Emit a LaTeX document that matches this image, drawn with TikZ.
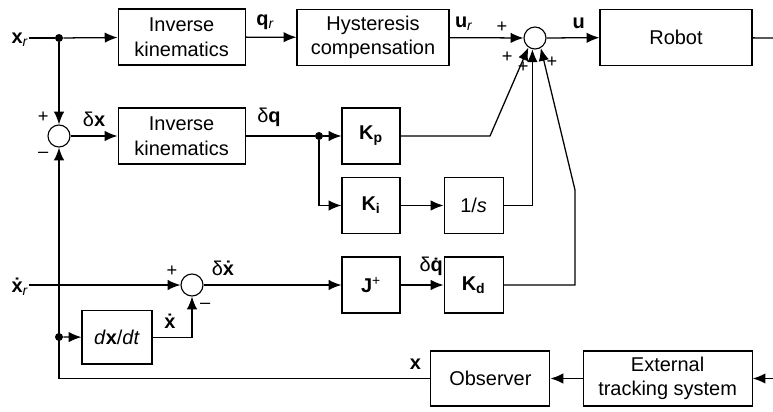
\documentclass[tikz,border=0pt]{standalone}
\usepackage{fontspec}
\setmainfont{Liberation Sans}
\usepackage{tikz}
\usetikzlibrary{arrows.meta, positioning}
\newcommand{\lsub}[1]{\textsubscript{#1}}
\newcommand{\bdot}{\textbf{\.x}}
\tikzset{
  blkbox/.style={draw,line width=0.8pt,minimum height=1.4cm,inner sep=1pt,align=center,
    font=\fontsize{14.2}{17.5}\selectfont},
  sumnode/.style={circle,draw,line width=0.8pt,minimum size=0.55cm,inner sep=0pt},
  jnode/.style={circle,fill=black,minimum size=0.2cm,inner sep=0pt},
  sigedge/.style={-{Latex[length=3.2mm,width=2.6mm]},line width=0.9pt},
  sigline/.style={line width=0.9pt},
  siglbl/.style={inner sep=0pt,font=\fontsize{14.2}{16}\selectfont},
  signlbl/.style={inner sep=0pt,font=\fontsize{13}{14}\selectfont},
}
\begin{document}
\begin{tikzpicture}
  \useasboundingbox (0,0) rectangle (19.325,10.275);
  % ---- top path: reference -> hysteresis compensation -> robot ----
  \node[jnode] (dot1) at (1.475,9.325) {};
  \node[siglbl] (xr) at (0.5,9.27) {\textbf{x}\lsub{\textit{r}}};
  \node[blkbox,minimum width=3.175cm] (ik1) at (4.54,9.35) {Inverse\\kinematics};
  \node[blkbox,minimum width=3.8cm] (hyst) at (9.325,9.34) {Hysteresis\\compensation};
  \node[sumnode] (sum1) at (13.375,9.325) {};
  \node[blkbox,minimum width=3.8cm] (robot) at (16.9,9.34) {Robot};
  \coordinate (rout) at (19.325,9.325);
  % ---- position error path ----
  \node[sumnode] (sum2) at (1.475,6.875) {};
  \node[blkbox,minimum width=3.175cm] (ik2) at (4.54,6.875) {Inverse\\kinematics};
  \node[jnode] (dot2) at (7.975,6.875) {};
  \node[blkbox,minimum width=1.45cm] (kp) at (9.275,6.875) {\textbf{K}\lsub{\textbf{p}}};
  \node[blkbox,minimum width=1.45cm] (ki) at (9.275,5.1375) {\textbf{K}\lsub{\textbf{i}}};
  \node[blkbox,minimum width=1.475cm] (integ) at (11.84,5.1375) {1/\textit{s}};
  \coordinate (kpbend) at (12.25,6.875);
  % ---- velocity error path ----
  \node[siglbl] (xdr) at (0.5,3.1) {\bdot\lsub{\textit{r}}};
  \node[sumnode] (sum3) at (4.8,3.15) {};
  \node[blkbox,minimum width=1.45cm] (jp) at (9.275,3.15) {\textbf{J}\textsuperscript{+}};
  \node[blkbox,minimum width=1.475cm] (kd) at (11.84,3.15) {\textbf{K}\lsub{\textbf{d}}};
  \coordinate (kdc) at (14.375,3.15);
  \coordinate (kdbend) at (14.375,5.525);
  \node[jnode] (dot3) at (1.475,1.85) {};
  \node[blkbox,minimum width=1.75cm,minimum height=1.33cm] (ddt) at (2.925,1.84) {\textit{d}\textbf{x}/\textit{dt}};
  % ---- measurement ----
  \node[blkbox,minimum width=2.975cm,minimum height=1.375cm] (obs) at (12.26,0.8125) {Observer};
  \node[blkbox,minimum width=4.225cm,minimum height=1.375cm] (ext) at (16.69,0.8125) {External\\tracking system};
  \coordinate (rin) at (19.325,0.8125);

  \draw[sigline] (xr.east |- dot1) -- (dot1);
  \draw[sigedge] (dot1) -- (ik1);
  \draw[sigedge] (ik1) -- node[siglbl,above=5pt,xshift=-4pt] {\textbf{q}\lsub{\textit{r}}} (hyst);
  \draw[sigedge] (hyst) -- node[siglbl,above=5pt,xshift=-16pt] {\textbf{u}\lsub{\textit{r}}} (sum1);
  \draw[sigedge] (sum1) -- node[siglbl,above=6pt,xshift=4pt] {\textbf{u}} (robot);
  \draw[sigline] (robot) -- (rout);
  \draw[sigedge] (dot1) -- (sum2);
  \draw[sigedge] (sum2) -- node[siglbl,above=6pt] {δ\textbf{x}} (ik2);
  \draw[sigline] (ik2) -- node[siglbl,above=6pt,xshift=-8pt] {δ\textbf{q}} (dot2);
  \draw[sigedge] (dot2) -- (kp);
  \draw[sigedge] (dot2) |- (ki);
  \draw[sigedge] (ki) -- (integ);
  \draw[sigedge] (kp) -- (kpbend) -- (sum1.235);
  \draw[sigedge] (integ.east) -| (sum1.257);
  \draw[sigedge] (kd) -- (kdc) -- (kdbend) -- (sum1.300);
  \draw[sigedge] (xdr.east |- sum3) -- (sum3);
  \draw[sigedge] (sum3) -- node[siglbl,above=6pt,pos=0.14] {δ\bdot} (jp);
  \draw[sigedge] (jp) -- node[siglbl,above=6pt,xshift=7pt] {δ\textbf{\.q}} (kd);
  \draw[sigedge] (dot3) -- (ddt);
  \draw[sigedge] (ddt.east) -| node[siglbl,pos=0.22,above=6pt] {\bdot} (sum3);
  \draw[sigedge] (rin) -- (ext);
  \draw[sigedge] (ext) -- (obs);
  \draw[sigedge] (obs) -| node[siglbl,pos=0.02,above=6pt] {\textbf{x}} (sum2);
  % ---- signs ----
  \node[signlbl] at (12.55,9.6) {+};
  \node[signlbl] at (12.68,8.85) {+};
  \node[signlbl] at (13.08,8.6) {+};
  \node[signlbl] at (13.8,8.73) {+};
  \node[signlbl] at (1.08,7.35) {+};
  \node[signlbl] at (1.08,6.4) {--};
  \node[signlbl] at (4.3,3.5) {+};
  \node[signlbl] at (5.13,2.63) {--};
\end{tikzpicture}
\end{document}
